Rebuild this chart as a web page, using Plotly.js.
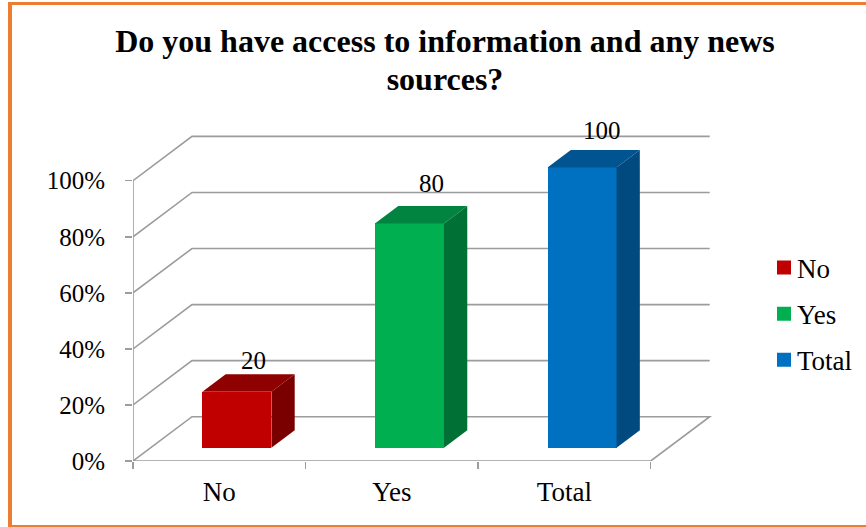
<!DOCTYPE html>
<html>
<head>
<meta charset="utf-8">
<script src="https://cdn.plot.ly/plotly-3.0.1.min.js"></script>
<style>html,body{margin:0;padding:0;background:#fff}#c{width:866px;height:527px}</style>
</head>
<body>
<div id="c"></div>
<script>
const categories = ['No', 'Yes', 'Total'];
const values = [20, 80, 100];
const frontColors = ['#C00000', '#00B050', '#0070C0'];
const topColors = ['#8F0000', '#008440', '#005490'];
const sideColors = ['#7A0000', '#007034', '#004A80'];
const gridValues = [20, 40, 60, 80, 100];
const yTickValues = [0, 20, 40, 60, 80, 100];
const yTickText = ['0%', '20%', '40%', '60%', '80%', '100%'];
const labelShiftX = [17, 22, 20];
const labelShiftY = [31, 40, 37];

const W = 866, H = 527;
const m = {l: 133, r: 0, t: 130, b: 66};
const pxPerCat = 172.57, pxPerVal = 2.803;
const pw = W - m.l - m.r, ph = H - m.t - m.b;
const xMax = pw / pxPerCat, yMax = ph / pxPerVal;
const wallDx = 59 / pxPerCat, wallDy = 44.3 / pxPerVal;
const barDx = 23.3 / pxPerCat, barDy = 17.4 / pxPerVal;
const barBase = 13.3 / pxPerVal, barLeft = 0.402, barWidth = 0.4;
const GRID = '#9C9C9C', ORANGE = '#ED7D31', FONT = '"Liberation Serif", "Times New Roman", serif';

const traces = [];
categories.forEach((c, i) => {
  traces.push({type: 'bar', name: c, x: [i + barLeft + barWidth / 2], y: [values[i]], base: [barBase],
    width: [barWidth], marker: {color: frontColors[i], line: {width: 0}}, hoverinfo: 'skip',
    legendgroup: c});
});
categories.forEach((c, i) => {
  const x0 = i + barLeft, x1 = x0 + barWidth, y0 = barBase, y1 = barBase + values[i];
  traces.push({type: 'scatter', mode: 'lines', fill: 'toself', fillcolor: topColors[i], line: {width: 0},
    x: [x0, x1, x1 + barDx, x0 + barDx, x0], y: [y1, y1, y1 + barDy, y1 + barDy, y1],
    showlegend: false, hoverinfo: 'skip'});
  traces.push({type: 'scatter', mode: 'lines', fill: 'toself', fillcolor: sideColors[i], line: {width: 0},
    x: [x1, x1 + barDx, x1 + barDx, x1, x1], y: [y0, y0 + barDy, y1 + barDy, y1, y0],
    showlegend: false, hoverinfo: 'skip'});
});

const line = (xs, ys) => ({type: 'path', xref: 'x', yref: 'y', layer: 'below',
  path: xs.map((x, k) => (k ? 'L' : 'M') + x + ',' + ys[k]).join(' '),
  line: {color: GRID, width: 1.6}});
const n = categories.length;
const shapes = [
  line([0, 0], [0, 100]),
  line([0, n, n + wallDx, wallDx, 0], [0, 0, wallDy, wallDy, 0]),
];
gridValues.forEach(v => shapes.push(line([0, wallDx, n + wallDx], [v, v + wallDy, v + wallDy])));

const band = (x0, y0, x1, y1) => ({type: 'rect', xref: 'paper', yref: 'paper', layer: 'above',
  x0: (x0 - m.l) / pw, x1: (x1 - m.l) / pw, y0: (H - m.b - y0) / ph, y1: (H - m.b - y1) / ph,
  fillcolor: ORANGE, line: {width: 0}});
shapes.push(band(8, 2, 866, 5), band(8, 2, 12, 527), band(8, 525, 866, 527));

const annotations = categories.map((c, i) => ({
  x: i + barLeft + barWidth / 2, y: barBase + values[i], xref: 'x', yref: 'y',
  text: String(values[i]), showarrow: false, xshift: labelShiftX[i], yshift: labelShiftY[i],
  xanchor: 'center', yanchor: 'middle', font: {family: FONT, size: 25, color: '#000'}
}));

const layout = {
  width: W, height: H, margin: m, paper_bgcolor: '#fff', plot_bgcolor: 'rgba(0,0,0,0)',
  font: {family: FONT, size: 25, color: '#000'},
  title: {text: '<b>Do you have access to information and any news<br>sources?</b>',
    font: {family: FONT, size: 32, color: '#000'}, xref: 'container', yref: 'container',
    x: 445 / W, xanchor: 'center', y: 1 - 52 / H, yanchor: 'top', pad: {t: 0, b: 0, l: 0, r: 0}},
  bargap: 0, barmode: 'overlay',
  xaxis: {range: [0, xMax], showgrid: false, zeroline: false, showline: false,
    tickmode: 'array', tickvals: categories.map((c, i) => i + 0.5), ticktext: categories,
    ticks: '', ticklabelstandoff: 12, tickfont: {family: FONT, size: 27, color: '#000'},
    minor: {tickmode: 'array', tickvals: [0, 1, 2, 3], ticks: 'outside', ticklen: 7, tickwidth: 1.5, tickcolor: GRID, showgrid: false}},
  yaxis: {range: [0, yMax], showgrid: false, zeroline: false, showline: false,
    tickmode: 'array', tickvals: yTickValues, ticktext: yTickText,
    ticks: 'outside', ticklen: 7, tickwidth: 1.5, tickcolor: GRID, ticklabelstandoff: 15,
    tickfont: {family: FONT, size: 25, color: '#000'}},
  shapes, annotations,
  legend: {x: (764 - m.l) / pw, xanchor: 'left', y: (H - m.b - 314) / ph, yanchor: 'middle',
    entrywidth: 45, entrywidthmode: 'pixels',
    traceorder: 'grouped', tracegroupgap: 8, font: {family: FONT, size: 27, color: '#000'},
    bgcolor: 'rgba(0,0,0,0)', borderwidth: 0, itemclick: false, itemdoubleclick: false}
};
Plotly.newPlot('c', traces, layout, {displayModeBar: false, staticPlot: true}).then(() => {
  // Tighter title leading, larger legend swatches and a smaller swatch-to-text gap.
  const lines = document.querySelectorAll('.gtitle tspan.line');
  if (lines.length > 1) lines[1].setAttribute('y', parseFloat(lines[1].getAttribute('y')) - 4);
  document.querySelectorAll('.legend .legendtext').forEach(t => {
    t.setAttribute('x', 33);
    t.querySelectorAll('tspan').forEach(s => { if (s.hasAttribute('x')) s.setAttribute('x', 33); });
  });
  document.querySelectorAll('.legend .legendbar path, .legend .legendpoints path').forEach(p => {
    p.setAttribute('d', 'M7,7H-7V-7H7Z');
  });
});
</script>
</body>
</html>
